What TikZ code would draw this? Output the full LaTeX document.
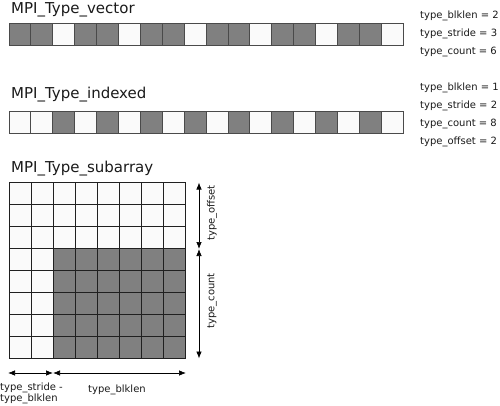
\documentclass[tikz,border=0pt]{standalone}
\usepackage{fontspec}
\setmainfont{DejaVu Sans}
\usetikzlibrary{arrows.meta}
\definecolor{cellgray}{HTML}{808080}
\definecolor{cellwhite}{HTML}{FAFAFA}
\definecolor{stripline}{HTML}{4A4A4A}
\definecolor{gridline}{HTML}{202020}
\definecolor{txt}{HTML}{1A1A1A}
\begin{document}
\begin{tikzpicture}[x=1pt,y=-1pt,
  stripcell/.style={draw=stripline,line width=0.9pt,minimum width=21.9pt,minimum height=22pt,inner sep=0pt,outer sep=0pt},
  gridcell/.style={draw=gridline,line width=1pt,minimum width=22pt,minimum height=22pt,inner sep=0pt,outer sep=0pt},
  title/.style={font=\fontsize{15}{17}\selectfont,text=txt,inner sep=0pt,anchor=base west},
  param/.style={font=\fontsize{10}{12}\selectfont,text=txt,inner sep=0pt,anchor=west},
  dimlabel/.style={font=\fontsize{10}{10.5}\selectfont,text=txt,inner sep=0pt},
  dimarrow/.style={draw=black,line width=0.7pt,{Latex[length=7pt,width=5.5pt]}-{Latex[length=7pt,width=5.5pt]}}]
\useasboundingbox (0,0) rectangle (500,406);

% titles
\node[title] (t1) at (11,14) {MPI\_Type\_vector};
\node[title] (t2) at (11,99) {MPI\_Type\_indexed};
\node[title] (t3) at (11,172.5) {MPI\_Type\_subarray};

% vector strip
\foreach \i in {0,...,17}{
  \pgfmathtruncatemacro\m{mod(\i,3)}
  \ifnum\m=2 \def\fc{cellwhite}\else\def\fc{cellgray}\fi
  \node[stripcell,fill=\fc] (v\i) at ({9+21.9*\i+10.95},34.5) {};
}
% indexed strip
\foreach \i in {0,...,17}{
  \pgfmathtruncatemacro\m{mod(\i,2)}
  \def\fc{cellwhite}
  \ifnum\i>1 \ifnum\i<17 \ifnum\m=0 \def\fc{cellgray}\fi\fi\fi
  \node[stripcell,fill=\fc] (x\i) at ({9+21.9*\i+10.95},122) {};
}
% subarray grid
\foreach \c in {0,...,7}{
  \foreach \r in {0,...,7}{
    \def\fc{cellwhite}
    \ifnum\c>1 \ifnum\r>2 \def\fc{cellgray}\fi\fi
    \node[gridcell,fill=\fc] (g\c\r) at ({9+22*\c+11},{182+22*\r+11}) {};
  }
}

% parameters
\node[param] (p1) at (420,16) {type\_blklen = 2};
\node[param] (p2) at (420,34) {type\_stride = 3};
\node[param] (p3) at (420,52) {type\_count = 6};
\node[param] (p4) at (420,88) {type\_blklen = 1};
\node[param] (p5) at (420,106) {type\_stride = 2};
\node[param] (p6) at (420,124) {type\_count = 8};
\node[param] (p7) at (420,142) {type\_offset = 2};

% vertical dimension arrows
\coordinate (ot) at (199,182.5);
\coordinate (om) at (199,249);
\coordinate (cb) at (199,358.5);
\draw[dimarrow] (ot) -- (om);
\draw[dimarrow] (om) -- (cb);
\node[dimlabel,rotate=90] (lo) at (212,213) {type\_offset};
\node[dimlabel,rotate=90] (lc) at (212,301) {type\_count};

% horizontal dimension arrows
\coordinate (hl) at (8,373);
\coordinate (hm) at (53,373);
\coordinate (hr) at (186,373);
\draw[dimarrow] (hl) -- (hm);
\draw[dimarrow] (hm) -- (hr);
\node[dimlabel,align=left,anchor=north west] (ls) at (0,383) {type\_stride -\\type\_blklen};
\node[dimlabel] (lb) at (117,390) {type\_blklen};
\end{tikzpicture}
\end{document}
